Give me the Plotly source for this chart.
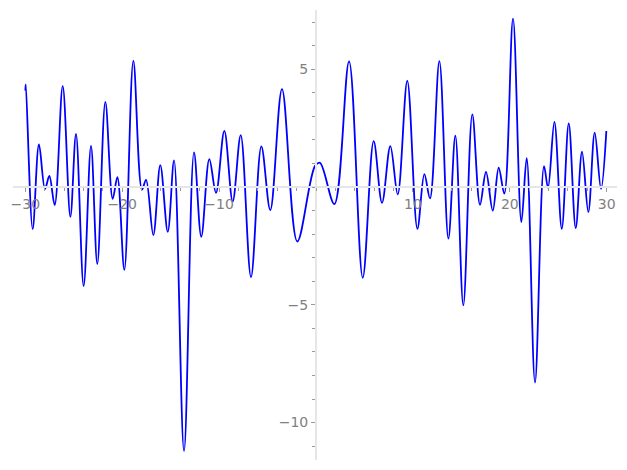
import plotly.graph_objects as go

# curve samples (turning points of the wave)
x_vals = [-30.0, -29.95, -29.24, -28.59, -27.97, -27.52, -26.97, -26.14, -25.35, -24.77,
          -23.98, -23.22, -22.57, -21.74, -20.98, -20.5, -19.78, -18.85, -17.96, -17.54,
          -16.79, -16.07, -15.3, -14.65, -13.62, -12.59, -11.84, -11.01, -10.32, -9.46,
          -8.6, -7.77, -6.71, -5.64, -4.72, -3.51, -1.93, -0.1, 0.41, 1.89,
          3.41, 4.82, 5.95, 6.81, 7.67, 8.43, 9.42, 10.46, 11.18, 11.76,
          12.73, 13.66, 14.38, 15.2, 16.13, 16.92, 17.54, 18.24, 18.85, 19.43,
          20.33, 21.19, 21.74, 22.6, 23.53, 23.94, 24.6, 25.36, 26.08, 26.8,
          27.45, 28.1, 28.76, 29.41, 29.96]
y_vals = [4.1, 4.36, -1.78, 1.81, -0.08, 0.47, -0.76, 4.29, -1.26, 2.26,
          -4.2, 1.75, -3.27, 3.62, -0.5, 0.42, -3.52, 5.36, -0.11, 0.31,
          -2.04, 0.93, -1.9, 1.13, -11.21, 1.47, -2.11, 1.19, -0.24, 2.39,
          -0.61, 2.21, -3.82, 1.73, -0.98, 4.16, -2.31, 0.9, 1.03, -0.72,
          5.34, -3.85, 1.95, -0.67, 1.74, -0.31, 4.51, -1.77, 0.55, -0.48,
          5.35, -2.19, 2.18, -5.02, 3.09, -0.75, 0.64, -1.0, 0.82, -0.28,
          7.15, -1.49, 1.23, -8.3, 0.89, -0.03, 2.77, -1.77, 2.7, -1.74,
          1.5, -1.06, 2.31, -0.08, 2.38]

x_ticks = [-30, -20, -10, 10, 20, 30]
y_ticks = [-10, -5, 5]

x_range = [-31.27, 31.06]
y_range = [-11.59, 7.52]

fig = go.Figure()
fig.add_trace(go.Scatter(x=x_vals, y=y_vals, mode="lines",
                         line=dict(color="#0000ff", width=1.8, shape="spline", smoothing=1.0),
                         hoverinfo="skip"))

axis_font = dict(family="DejaVu Sans", size=14, color="#808080")
spine = "#e6e6e6"

fig.update_layout(
    width=627, height=470,
    margin=dict(l=13, r=10, t=10, b=10),
    plot_bgcolor="white", paper_bgcolor="white",
    showlegend=False,
    xaxis=dict(
        range=x_range, showgrid=False, zeroline=False, automargin=False,
        showline=True, linecolor=spine, linewidth=2,
        anchor="free", position=(0 - y_range[0]) / (y_range[1] - y_range[0]),
        tickvals=x_ticks, ticktext=["\u221230", "\u221220", "\u221210", "10", "20", "30"],
        ticks="outside", ticklen=4, tickcolor="#999999", tickwidth=1,
        tickfont=axis_font,
        minor=dict(dtick=2, ticks="outside", ticklen=3, tickcolor="#999999", tickwidth=1),
    ),
    yaxis=dict(
        range=y_range, showgrid=False, zeroline=False, automargin=False,
        showline=True, linecolor=spine, linewidth=2,
        anchor="free", position=(0 - x_range[0]) / (x_range[1] - x_range[0]),
        tickvals=y_ticks, ticktext=["\u221210", "\u22125", "5"],
        ticks="outside", ticklen=4, tickcolor="#999999", tickwidth=1,
        tickfont=axis_font,
        minor=dict(dtick=1, ticks="outside", ticklen=3, tickcolor="#999999", tickwidth=1),
    ),
)

# drop the browser's default page margin so the figure sits at the window corner
fig.write_html("out.html", config={"displayModeBar": False},
               post_script="document.body.style.margin='0';")
